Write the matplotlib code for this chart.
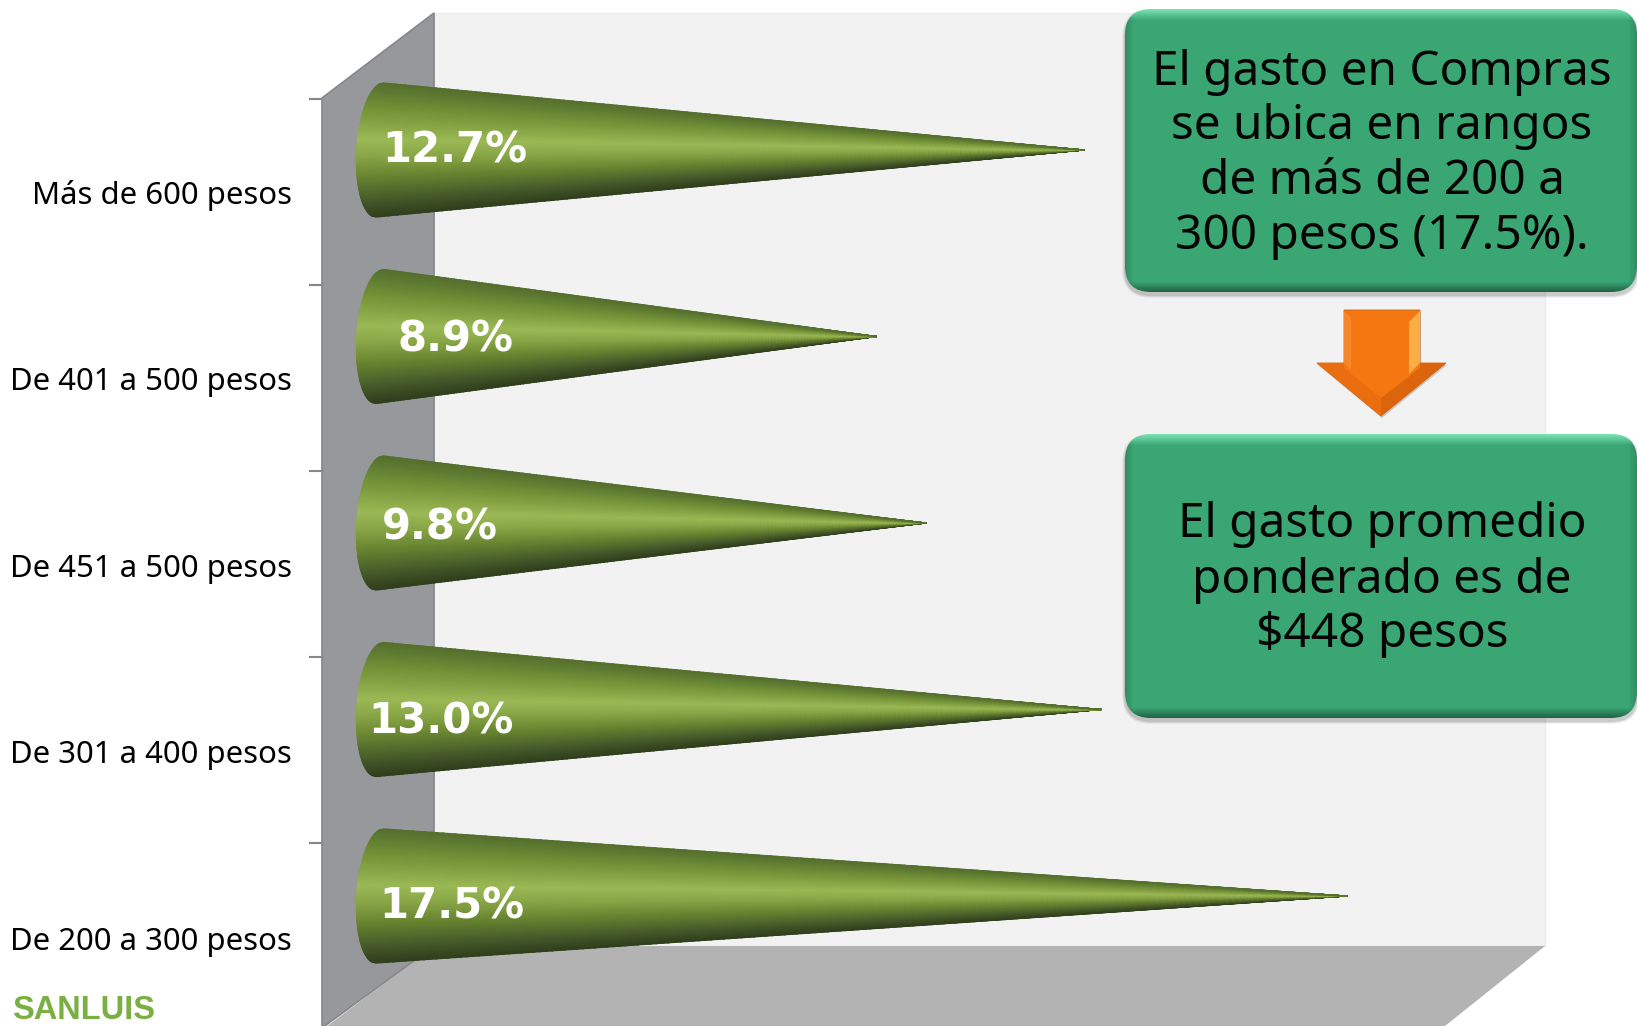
import numpy as np
import matplotlib
matplotlib.use("Agg")
import matplotlib.pyplot as plt
from matplotlib.colors import LinearSegmentedColormap
from matplotlib.patches import FancyBboxPatch, Polygon

categories = ["De 200 a 300 pesos", "De 301 a 400 pesos", "De 451 a 500 pesos",
              "De 401 a 500 pesos", "Más de 600 pesos"]
values = [17.5, 13.0, 9.8, 8.9, 12.7]
value_labels = ["17.5%", "13.0%", "9.8%", "8.9%", "12.7%"]
box1_text = "El gasto en Compras\nse ubica en rangos\nde más de 200 a\n300 pesos (17.5%)."
box2_text = "El gasto promedio\nponderado es de\n$448 pesos"
logo_text = "SANLUIS"

W, H = 1637, 1026
FONT = ["Noto Sans", "DejaVu Sans"]
fig = plt.figure(figsize=(W / 100, H / 100), dpi=100, facecolor="white")

# pixel axes for the walls, callouts etc
bg = fig.add_axes([0, 0, 1, 1], zorder=0)
bg.set_xlim(0, W)
bg.set_ylim(H, 0)
bg.axis("off")

# walls and floor
bg.add_patch(Polygon([(434, 13), (1545, 13), (1545, 946), (434, 946)], fc="#f2f2f2", ec="#ececec", lw=1))
bg.add_patch(Polygon([(434, 946), (1545, 946), (1440, 1030), (322, 1030)], fc="#b3b3b3", ec="none"))
bg.add_patch(Polygon([(322, 98), (434, 13), (434, 946), (322, 1028)], fc="#97989c", ec="#86878a", lw=1.2))
for ty in [99, 285, 471, 657, 843]:
    bg.plot([310, 322], [ty, ty], color="#86878a", lw=1.5)


def green_box(x0, y0, x1, y1, text, lines_y):
    r = 26
    for grow, alpha in [(3, 0.05), (2, 0.07), (1, 0.09)]:
        bg.add_patch(FancyBboxPatch((x0 + r, y0 + r + 3), x1 - x0 - 2 * r, y1 - y0 - 2 * r,
                                    boxstyle=f"round,pad={r + grow},rounding_size={r + grow}",
                                    fc="#000000", ec="none", alpha=alpha, zorder=3))
    patch = FancyBboxPatch((x0 + r, y0 + r), x1 - x0 - 2 * r, y1 - y0 - 2 * r,
                           boxstyle=f"round,pad={r},rounding_size={r}", fc="none", ec="none", zorder=4)
    bg.add_patch(patch)
    n = y1 - y0
    m = x1 - x0
    yy, xx = np.mgrid[0:n, 0:m]
    base = np.array([0x3a, 0xa6, 0x73]) / 255
    top = np.clip(1 - yy / 11, 0, 1)[..., None]
    bot = np.clip(1 - (n - 1 - yy) / 10, 0, 1)[..., None]
    side = np.clip(1 - np.minimum(xx, m - 1 - xx) / 8, 0, 1)[..., None]
    img = base * (1 - top) + np.array([0x78, 0xe2, 0xb0]) / 255 * top
    img = img * (1 - 0.4 * bot) * (1 - 0.15 * side)
    im = bg.imshow(img, extent=(x0, x1, y1, y0), zorder=4, aspect="auto", interpolation="bilinear")
    im.set_clip_path(patch)
    for line, ly in zip(text.split("\n"), lines_y):
        bg.text((x0 + x1) / 2 + 1, ly, line, ha="center", va="center", fontsize=34.4,
                family=FONT, color="#050505", zorder=5)


green_box(1125, 9, 1637, 292, box1_text, [72, 127, 182, 237])
green_box(1125, 434, 1637, 718, box2_text, [525, 580, 635])
bg.set_xlim(0, W)
bg.set_ylim(H, 0)

# arrow between the callouts
arrow = [(1344, 310), (1420, 310), (1420, 363), (1446, 363), (1381, 416), (1317, 363), (1344, 363)]
bg.add_patch(Polygon([(p[0] + 1, p[1] + 2) for p in arrow], fc="#000000", ec="none", alpha=0.18, zorder=3))
bg.add_patch(Polygon(arrow, fc="#f47711", ec="#d0650f", lw=0.6, zorder=4))
bg.add_patch(Polygon([(1420, 311), (1420, 363), (1409, 374), (1409, 322)], fc="#fbae45", ec="none", zorder=4))
bg.add_patch(Polygon([(1344, 311), (1344, 363), (1351, 370), (1351, 318)], fc="#f6872a", ec="none", zorder=4))
bg.add_patch(Polygon([(1317, 363), (1381, 416), (1381, 398), (1344, 368), (1344, 363)], fc="#ea6e10", ec="none", zorder=4))
bg.add_patch(Polygon([(1446, 363), (1381, 416), (1381, 398), (1420, 368), (1420, 363)], fc="#db640d", ec="none", zorder=4))

# data axes, x in percent and y in category position
ax = fig.add_axes([0, 0, 1, 1], zorder=1)
ax.patch.set_alpha(0)
ax.axis("off")
ax.set_xlim(-390 / 54.7, (W - 390) / 54.7)
ax.set_ylim((896 - H) / 186.5, 896 / 186.5)

cone_cmap = LinearSegmentedColormap.from_list("cone", [
    (0.0, "#55702e"), (0.2, "#779538"), (0.42, "#9bb955"), (0.55, "#88a646"),
    (0.72, "#64802f"), (0.88, "#45592a"), (1.0, "#303f1c")])
half_h = 0.36
ell_w = 0.42
base_c = -0.26
tilt = 0.14

for i, v in enumerate(values):
    t = np.linspace(-1, 1, 121)
    s = np.linspace(0, 1, 160)
    T, S = np.meshgrid(t, s)
    xb = base_c - ell_w * np.sqrt(1 - T**2) + tilt * (T + 1) / 2
    X = xb + S * (v - xb)
    Y = i + T * half_h * (1 - S)
    C = (1 - T) / 2
    ax.pcolormesh(X, Y, C, cmap=cone_cmap, shading="gouraud", vmin=0, vmax=1)

label_x = [1.13, 0.93, 0.91, 1.2, 1.18]
label_dy = [-0.055, -0.065, -0.025, -0.015, -0.005]
for i, lab in enumerate(value_labels):
    ax.text(label_x[i], i + label_dy[i], lab, color="white", fontsize=30.2, fontweight="bold",
            family="DejaVu Sans", ha="center", va="center", zorder=6)

for i, c in enumerate(categories):
    ax.text(-1.79, i - 0.245, c, ha="right", va="center", fontsize=22.4, family=FONT, color="#000000")

bg.text(12, 995, logo_text, fontsize=23.5, fontweight="bold", family="Liberation Sans",
        color="#79b041", ha="left", va="top")

fig.savefig("out.png", dpi=100)
